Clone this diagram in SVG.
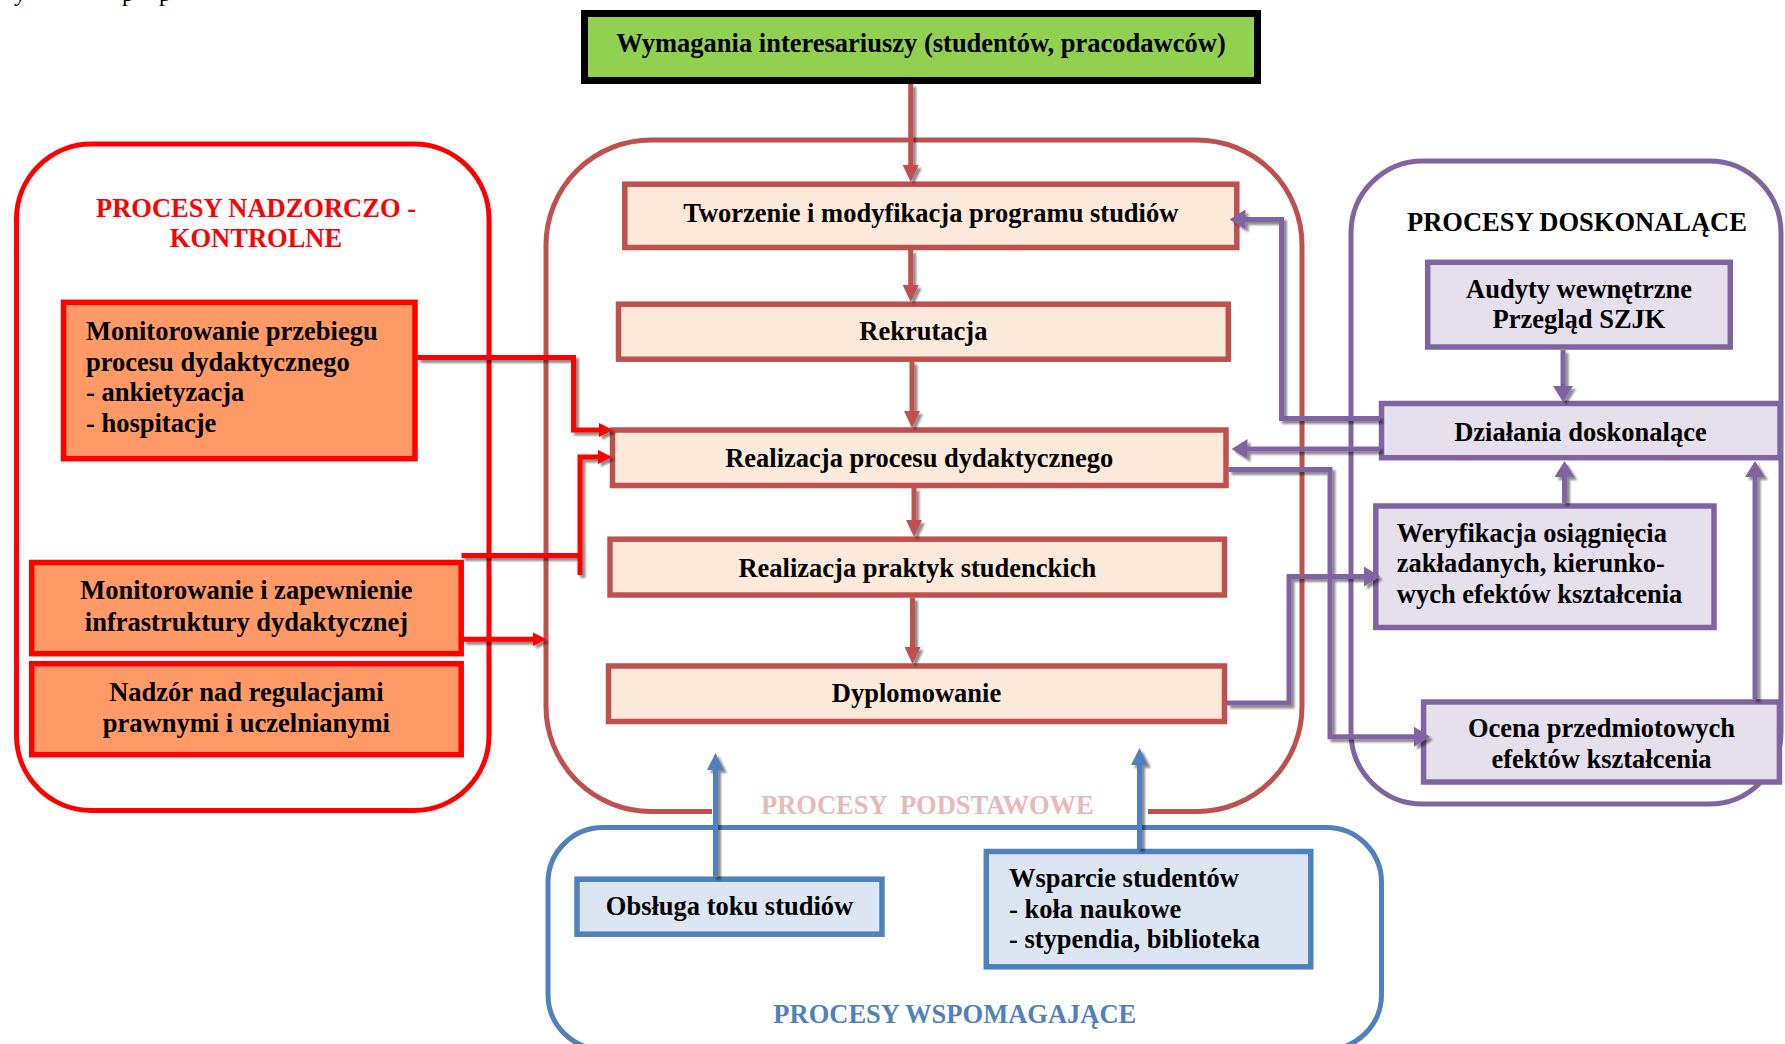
<svg xmlns="http://www.w3.org/2000/svg" width="1785" height="1044" viewBox="0 0 1785 1044">
<style>
.t{font-family:"Liberation Serif","Times New Roman",serif;font-weight:bold;font-size:26.5px;fill:#000}
.m{text-anchor:middle}
.cont{fill:none;stroke-width:5}
.bx{stroke-width:5.5}
.or{fill:#FF9966;stroke:#FF0000}
.pk{fill:#FDE9D9;stroke:#C0504D}
.pu{fill:#E5E0EC;stroke:#8064A2}
.bl{fill:#DCE6F2;stroke:#4F81BD}
.ln{fill:none;stroke-width:5;stroke-linejoin:miter;stroke-linecap:butt}
.lr{stroke:#FF0000;marker-end:url(#mR)}
.lb{stroke:#C0504D;marker-end:url(#mB)}
.lp{stroke:#8064A2;marker-end:url(#mP)}
.ll{stroke:#4F81BD;marker-end:url(#mL)}
</style>
<defs>
<filter id="sh" x="-10%" y="-10%" width="130%" height="130%">
<feDropShadow dx="3" dy="3" stdDeviation="0.8" flood-color="#000" flood-opacity="0.45"/>
</filter>
<marker id="mB" markerUnits="userSpaceOnUse" orient="auto" markerWidth="17" markerHeight="16" refX="11" refY="8"><path d="M0,0 L17,8 L0,16 z" fill="#C0504D"/></marker>
<marker id="mR" markerUnits="userSpaceOnUse" orient="auto" markerWidth="14" markerHeight="14" refX="8" refY="7"><path d="M0,0 L14,7 L0,14 z" fill="#FF0000"/></marker>
<marker id="mP" markerUnits="userSpaceOnUse" orient="auto" markerWidth="16" markerHeight="20" refX="10" refY="10"><path d="M0,0 L16,10 L0,20 z" fill="#8064A2"/></marker>
<marker id="mL" markerUnits="userSpaceOnUse" orient="auto" markerWidth="17" markerHeight="17" refX="11" refY="8.5"><path d="M0,0 L17,8.5 L0,17 z" fill="#4F81BD"/></marker>
</defs>
<rect width="1785" height="1044" fill="#fff"/>
<text font-family="Liberation Serif,serif" font-size="24" y="1" fill="#000"><tspan x="14">y</tspan><tspan x="122">p</tspan><tspan x="159">p</tspan></text>

<g id="container-nadzorczo">
<rect class="cont" x="16.5" y="144" width="472.5" height="666.5" rx="75" stroke="#FF0000"/>
<text class="t m" x="256" y="216.7" fill="#FF0000" style="fill:#FF0000">PROCESY NADZORCZO -</text>
<text class="t m" x="256" y="246.7" style="fill:#FF0000">KONTROLNE</text>
</g>
<g id="container-podstawowe">
<path class="cont" stroke="#C0504D" d="M712,811.5 H651 A105,105 0 0 1 546,706.5 V245 A105,105 0 0 1 651,140 H1197 A105,105 0 0 1 1302,245 V706.5 A105,105 0 0 1 1197,811.5 H1148"/>
<text class="t" x="761" y="814" xml:space="preserve" style="fill:#E6B9B8">PROCESY  PODSTAWOWE</text>
</g>
<g id="container-doskonalace">
<rect class="cont" x="1351" y="161" width="430" height="643" rx="72" stroke="#8064A2"/>
<text class="t m" x="1577" y="230.7">PROCESY DOSKONALĄCE</text>
</g>
<g id="container-wspomagajace">
<rect class="cont" x="548" y="827.5" width="833.5" height="222" rx="55" stroke="#4F81BD"/>
<text class="t m" x="954.8" y="1022.7" style="fill:#4F81BD">PROCESY WSPOMAGAJĄCE</text>
</g>

<g id="wymagania">
<rect x="584.5" y="13.5" width="673" height="67" fill="#92D050" stroke="#000" stroke-width="7"/>
<text class="t m" x="921" y="51.7">Wymagania interesariuszy (studentów, pracodawców)</text>
</g>

<g id="monitorowanie-przebiegu">
<rect class="bx or" x="63.5" y="302.3" width="351.5" height="156.4"/>
<text class="t" x="86" y="340">Monitorowanie przebiegu</text>
<text class="t" x="86" y="370.5">procesu dydaktycznego</text>
<text class="t" x="86" y="401">- ankietyzacja</text>
<text class="t" x="86" y="431.5">- hospitacje</text>
</g>
<g id="monitorowanie-infrastruktury">
<rect class="bx or" x="31.7" y="562.5" width="429.5" height="91.2"/>
<text class="t m" x="246.4" y="599.3">Monitorowanie i zapewnienie</text>
<text class="t m" x="246.4" y="630.7">infrastruktury dydaktycznej</text>
</g>
<g id="nadzor">
<rect class="bx or" x="31.7" y="663.7" width="429.5" height="91"/>
<text class="t m" x="246.4" y="701">Nadzór nad regulacjami</text>
<text class="t m" x="246.4" y="731.7">prawnymi i uczelnianymi</text>
</g>

<g id="tworzenie">
<rect class="bx pk" x="624.8" y="184.2" width="612" height="63.3"/>
<text class="t m" x="930.8" y="221.7">Tworzenie i modyfikacja programu studiów</text>
</g>
<g id="rekrutacja">
<rect class="bx pk" x="618.5" y="304.2" width="609.8" height="55"/>
<text class="t m" x="923.4" y="340">Rekrutacja</text>
</g>
<g id="realizacja-procesu">
<rect class="bx pk" x="612.5" y="430" width="613.5" height="55.5"/>
<text class="t m" x="919.3" y="466.7">Realizacja procesu dydaktycznego</text>
</g>
<g id="realizacja-praktyk">
<rect class="bx pk" x="610" y="539.2" width="614.5" height="55.8"/>
<text class="t m" x="917.3" y="576.7">Realizacja praktyk studenckich</text>
</g>
<g id="dyplomowanie">
<rect class="bx pk" x="608.5" y="666" width="616" height="55.5"/>
<text class="t m" x="916.5" y="701.7">Dyplomowanie</text>
</g>

<g id="audyty">
<rect class="bx pu" x="1427.7" y="262.3" width="302.6" height="84.7"/>
<text class="t m" x="1579" y="298.3">Audyty wewnętrzne</text>
<text class="t m" x="1579" y="328.3">Przegląd SZJK</text>
</g>
<g id="dzialania">
<rect class="bx pu" x="1381.5" y="403.5" width="398.5" height="54.2"/>
<text class="t m" x="1580.4" y="440.7">Działania doskonalące</text>
</g>
<g id="weryfikacja">
<rect class="bx pu" x="1375.8" y="506" width="338.2" height="121.5"/>
<text class="t" x="1396.8" y="541.7">Weryfikacja osiągnięcia</text>
<text class="t" x="1396.8" y="572">zakładanych, kierunko-</text>
<text class="t" x="1396.8" y="603">wych efektów kształcenia</text>
</g>
<g id="ocena">
<rect class="bx pu" x="1423.6" y="702" width="355.8" height="80"/>
<text class="t m" x="1601.5" y="737.3">Ocena przedmiotowych</text>
<text class="t m" x="1601.5" y="768.3">efektów kształcenia</text>
</g>

<g id="obsluga">
<rect class="bx bl" x="577" y="879.2" width="305" height="55"/>
<text class="t m" x="729.5" y="915">Obsługa toku studiów</text>
</g>
<g id="wsparcie">
<rect class="bx bl" x="986.3" y="851.5" width="324.5" height="115.3"/>
<text class="t" x="1009" y="887.3">Wsparcie studentów</text>
<text class="t" x="1009" y="918.3">- koła naukowe</text>
<text class="t" x="1009" y="948.3">- stypendia, biblioteka</text>
</g>

<g id="connectors" filter="url(#sh)">
<path class="ln lb" d="M910.7,84 V176"/>
<path class="ln lb" d="M910.7,250 V296"/>
<path class="ln lb" d="M912,361.7 V422"/>
<path class="ln lb" d="M914,488 V531"/>
<path class="ln lb" d="M912.5,597.5 V658"/>
<path class="ln lr" d="M417.5,357.5 H573.5 V430 H607"/>
<path class="ln" stroke="#FF0000" d="M461.5,555.5 H580"/>
<path class="ln lr" d="M580,575 V457 H606"/>
<path class="ln lr" d="M463,639.3 H540.5"/>
<path class="ln lp" d="M1380,418.5 H1281.5 V219.5 H1235.5"/>
<path class="ln lp" d="M1380,449 H1237.5"/>
<path class="ln lp" d="M1228.5,469.5 H1330 V736.7 H1424"/>
<path class="ln lp" d="M1227,703 H1289 V576.5 H1374"/>
<path class="ln lp" d="M1563,350 V396"/>
<path class="ln lp" d="M1564.5,503 V467"/>
<path class="ln lp" d="M1755,699 V467"/>
<path class="ln ll" d="M715.5,876.7 V759"/>
<path class="ln ll" d="M1139.5,849 V754"/>
</g>
</svg>
